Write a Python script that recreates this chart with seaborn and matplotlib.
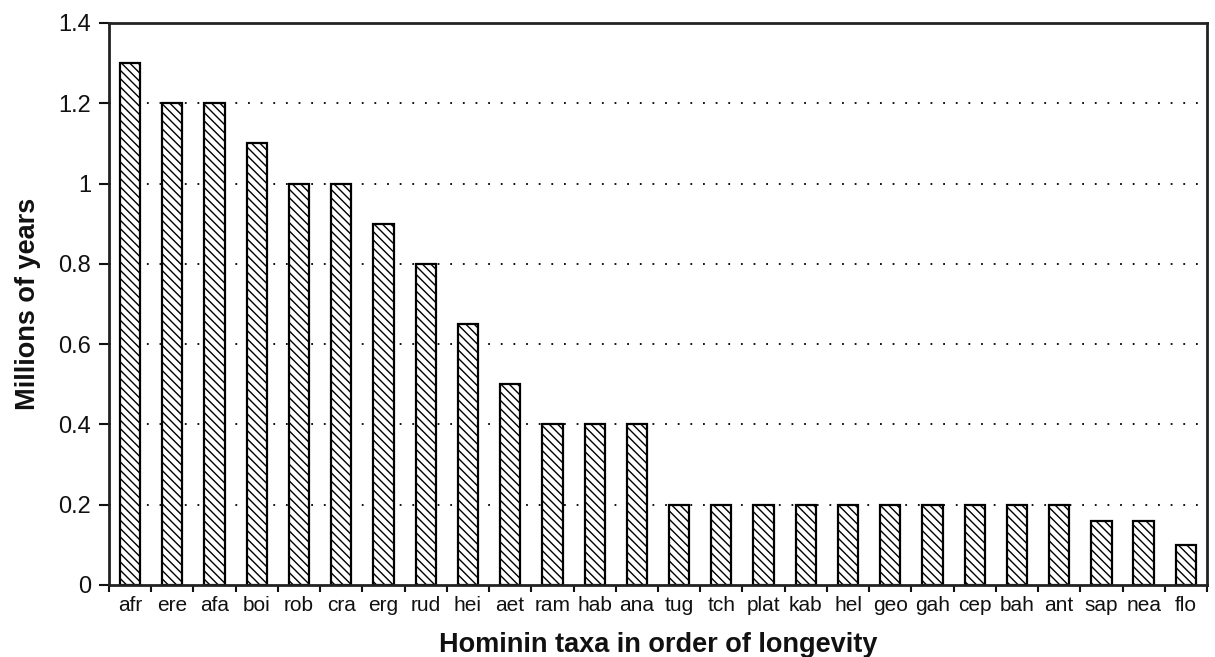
import numpy as np
import matplotlib
matplotlib.use('Agg')
import matplotlib.pyplot as plt
import seaborn as sns

# longevity of each hominin taxon (millions of years)
taxa = ['afr', 'ere', 'afa', 'boi', 'rob', 'cra', 'erg', 'rud', 'hei', 'aet',
        'ram', 'hab', 'ana', 'tug', 'tch', 'plat', 'kab', 'hel', 'geo', 'gah',
        'cep', 'bah', 'ant', 'sap', 'nea', 'flo']
longevity = [1.3, 1.2, 1.2, 1.1, 1.0, 1.0, 0.9, 0.8, 0.65, 0.5,
             0.4, 0.4, 0.4, 0.2, 0.2, 0.2, 0.2, 0.2, 0.2, 0.2,
             0.2, 0.2, 0.2, 0.16, 0.16, 0.1]
y_ticks = [0, 0.2, 0.4, 0.6, 0.8, 1.0, 1.2, 1.4]
y_tick_labels = ['0', '0.2', '0.4', '0.6', '0.8', '1', '1.2', '1.4']

sns.set_style('ticks')
plt.rcParams['font.family'] = ['Liberation Sans', 'DejaVu Sans']
plt.rcParams['hatch.linewidth'] = 1.0
plt.rcParams['text.color'] = '#111111'
plt.rcParams['axes.labelcolor'] = '#111111'
plt.rcParams['xtick.color'] = '#111111'
plt.rcParams['ytick.color'] = '#111111'

fig = plt.figure(figsize=(12.15, 6.57), dpi=100)
ax = fig.add_axes([0.0897, 0.1096, 0.9037, 0.8554])

sns.barplot(x=taxa, y=longevity, color='white', edgecolor='black',
            linewidth=1.6, width=0.48, saturation=1, ax=ax)
for p in ax.patches:
    p.set_hatch('\\\\\\\\')

ax.set_xlim(-0.5, len(taxa) - 0.5)
ax.set_ylim(0, 1.4)
ax.set_yticks(y_ticks)
ax.set_yticklabels(y_tick_labels, fontsize=17)

# category labels without marks, ticks on the boundaries
ax.set_xticks(np.arange(len(taxa)))
ax.set_xticklabels(taxa, fontsize=15)
ax.tick_params(axis='x', which='major', length=0, pad=8)
ax.set_xticks(np.arange(len(taxa) + 1) - 0.5, minor=True)
ax.tick_params(axis='x', which='minor', length=5, width=1.5, direction='out')
ax.tick_params(axis='y', length=7, width=1.5, direction='out', pad=6)

for v in y_ticks[1:-1]:
    ax.axhline(v, color='black', linestyle=(0, (1, 6)), linewidth=1.3, zorder=0)

for s in ax.spines.values():
    s.set_linewidth(2)
    s.set_color('#222222')

ax.set_ylabel('Millions of years', fontsize=19.5, fontweight='bold', labelpad=12)
ax.set_xlabel('Hominin taxa in order of longevity', fontsize=19.5,
              fontweight='bold', labelpad=12)

plt.savefig('out.png', dpi=100)
plt.close()
